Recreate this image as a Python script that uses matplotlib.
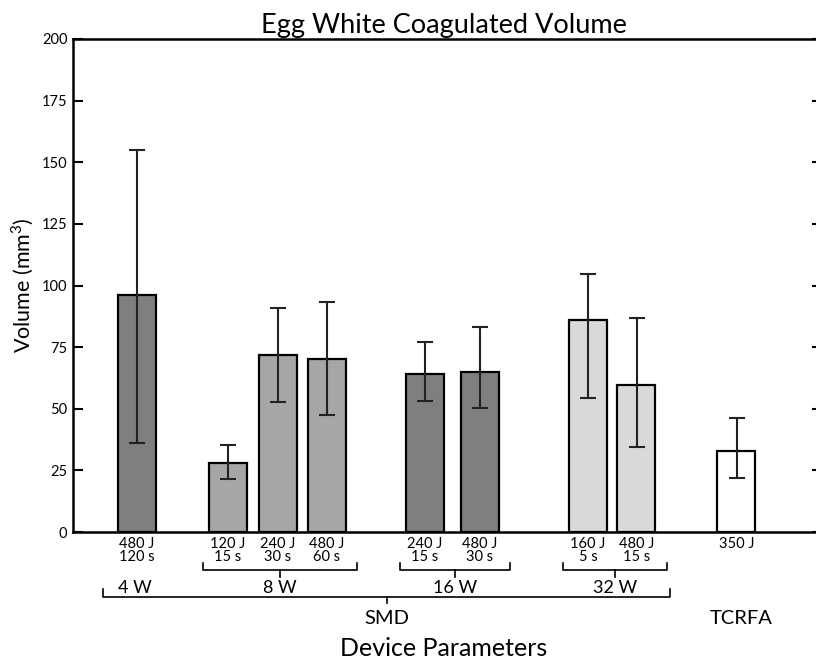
import matplotlib
matplotlib.use('Agg')
import matplotlib.pyplot as plt

plt.rcParams['font.family'] = ['Lato', 'DejaVu Sans']
plt.rcParams['mathtext.fontset'] = 'custom'
plt.rcParams['mathtext.rm'] = 'Lato'

# data
bar_labels = ['480 J\n120 s', '120 J\n15 s', '240 J\n30 s', '480 J\n60 s',
              '240 J\n15 s', '480 J\n30 s', '160 J\n5 s', '480 J\n15 s', '350 J']
volume = [96, 28, 71.7, 70.3, 64.1, 64.9, 86.2, 59.7, 33.0]
err_low = [60, 6.5, 19, 23, 11, 14.5, 31.7, 25.3, 11.2]
err_high = [59, 7.3, 19, 23, 13, 18.3, 18.6, 27.2, 13.4]
power_groups = ['4 W', '8 W', '16 W', '32 W']
device_groups = ['SMD', 'TCRFA']

# layout
xpos = [1.28, 3.09, 4.09, 5.08, 7.04, 8.14, 10.30, 11.27, 13.27]
colors = ['#7f7f7f', '#a6a6a6', '#a6a6a6', '#a6a6a6', '#7f7f7f', '#7f7f7f',
          '#d9d9d9', '#d9d9d9', '#ffffff']
group_bars = {'8 W': (1, 3), '16 W': (4, 5), '32 W': (6, 7)}

fig = plt.figure(figsize=(8.16, 6.61), dpi=100)
ax = fig.add_axes([73 / 816, 129 / 661, 743 / 816, 493 / 661])

ax.bar(xpos, volume, width=0.76, color=colors, edgecolor='black', linewidth=1.6, zorder=2)
ax.errorbar(xpos, volume, yerr=[err_low, err_high], fmt='none', ecolor='#222222',
            elinewidth=1.5, capsize=6, capthick=1.5, zorder=3)

ax.set_xlim(0, 14.86)
ax.set_ylim(0, 200)
ax.set_yticks(range(0, 201, 25))
ax.set_xticks([])
ax.spines['right'].set_visible(False)
for s in ['left', 'top', 'bottom']:
    ax.spines[s].set_linewidth(1.8)
ax.tick_params(axis='y', direction='in', length=7, width=1.5, labelsize=10.5, pad=4,
               right=True)
ax.set_ylabel('Volume (mm$^3$)', fontsize=15.5, labelpad=4)

fig.text(444 / 816, 1 - 33 / 661, 'Egg White Coagulated Volume', fontsize=19.5,
         ha='center', va='baseline')

tr = ax.get_xaxis_transform()


def yf(px):
    return (532 - px) / 493


# bar labels
for x, lab in zip(xpos, bar_labels):
    ax.text(x, yf(537), lab, transform=tr, ha='center', va='top', fontsize=10.5,
            linespacing=0.95, clip_on=False)


def brace(x0, x1, ytop, yline, ytick):
    xm = (x0 + x1) / 2
    kw = dict(transform=tr, color='black', lw=1.2, clip_on=False)
    ax.plot([x0, x0, x1, x1], [yf(ytop), yf(yline), yf(yline), yf(ytop)], **kw)
    ax.plot([xm, xm], [yf(yline), yf(ytick)], **kw)
    return xm


for name, (i0, i1) in group_bars.items():
    xm = brace(xpos[i0] - 0.5, xpos[i1] + 0.6, 563, 570, 577)
    ax.text(xm, yf(588), name, transform=tr, ha='center', va='center', fontsize=13,
            clip_on=False)
ax.text(xpos[0] - 0.05, yf(588), power_groups[0], transform=tr, ha='center', va='center',
        fontsize=13, clip_on=False)

xm = brace(xpos[0] - 0.68, xpos[7] + 0.67, 589, 597, 603)
ax.text(xm, yf(618), device_groups[0], transform=tr, ha='center', va='center',
        fontsize=14.5, clip_on=False)
ax.text(xpos[8] + 0.1, yf(618), device_groups[1], transform=tr, ha='center', va='center',
        fontsize=14.5, clip_on=False)

fig.text(444 / 816, 5 / 661, 'Device Parameters', fontsize=18, ha='center', va='baseline')

# short ticks on the right edge
for tk in ax.yaxis.get_major_ticks():
    tk.tick2line.set_markersize(3)

fig.savefig('out.png', dpi=100)
